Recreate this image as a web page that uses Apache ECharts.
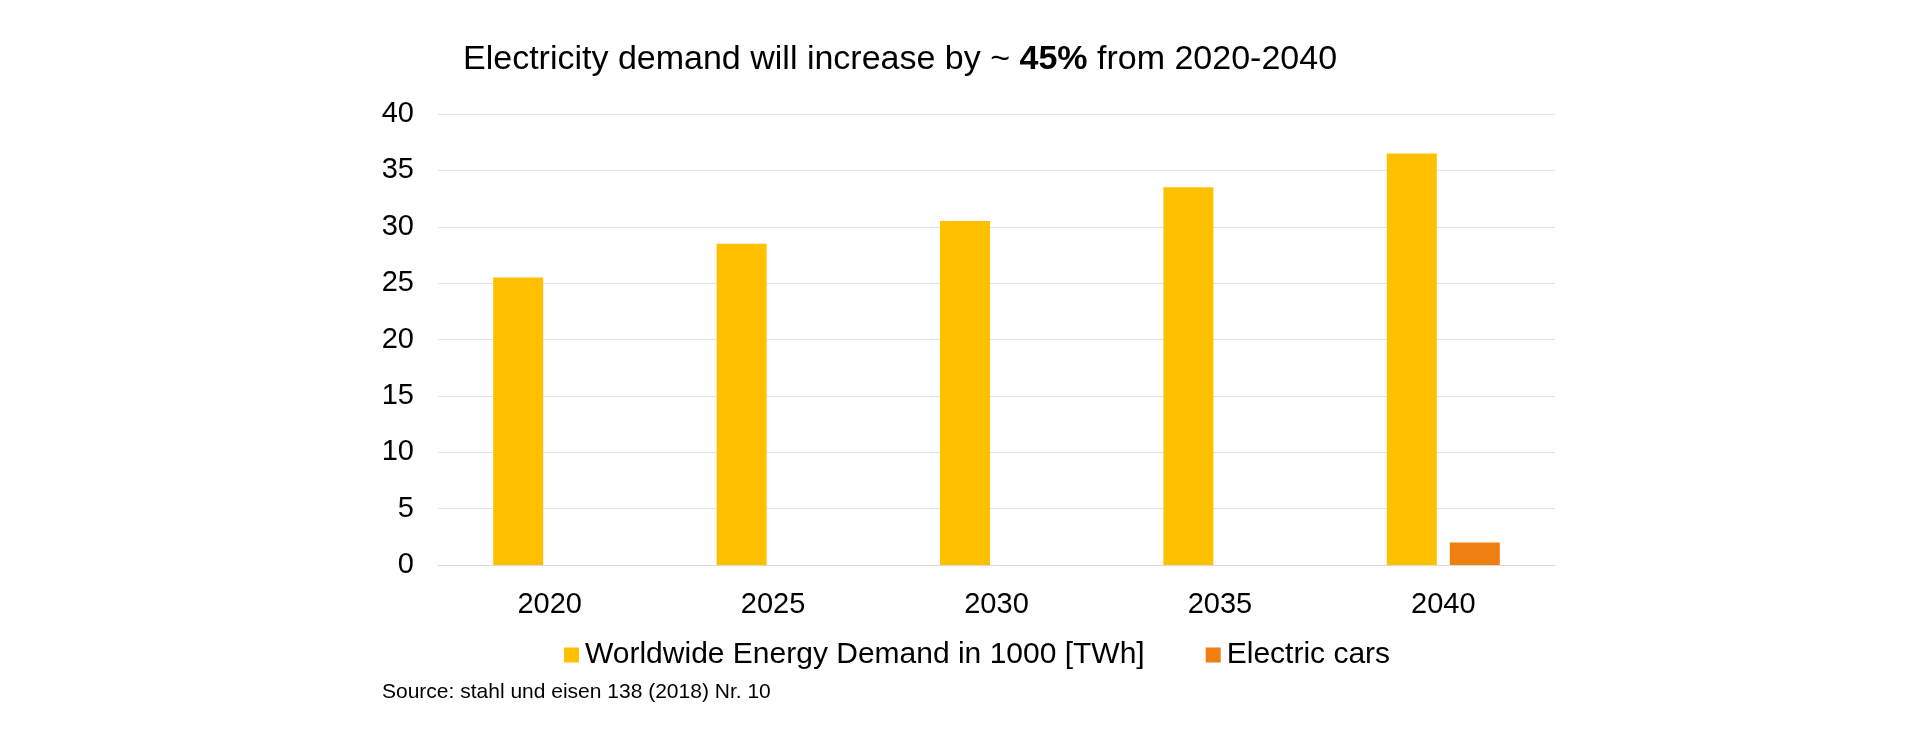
<!DOCTYPE html>
<html>
<head>
<meta charset="utf-8">
<script src="https://cdn.jsdelivr.net/npm/echarts@6/dist/echarts.min.js"></script>
<style>html,body{margin:0;padding:0;background:#fff}#c{width:1920px;height:750px}</style>
</head>
<body>
<div id="c"></div>
<script>
const categories = ['2020', '2025', '2030', '2035', '2040'];
const demandValues = [25.5, 28.5, 30.5, 33.5, 36.5];
const carValues = [0, 0, 0, 0, 2];
const seriesNames = ['Worldwide Energy Demand in 1000 [TWh]', 'Electric cars'];
const yTicks = {min: 0, max: 40, interval: 5};

const FONT = '"Liberation Sans", Arial, sans-serif';
const chart = echarts.init(document.getElementById('c'));
chart.setOption({
  backgroundColor: '#ffffff',
  animation: false,
  title: {
    text: 'Electricity demand will increase by ~ {b|45%} from 2020-2040',
    left: 463, top: 43, padding: 0,
    textStyle: {
      fontFamily: FONT, fontSize: 34, fontWeight: 'normal', color: '#000',
      lineHeight: 34,
      rich: { b: { fontFamily: FONT, fontSize: 34, fontWeight: 'bold', color: '#000', lineHeight: 34 } }
    }
  },
  legend: {
    data: seriesNames,
    left: 564, top: 640, padding: 0,
    icon: 'rect', itemWidth: 15, itemHeight: 15, itemGap: 61,
    textStyle: { fontFamily: FONT, fontSize: 30, color: '#000', padding: [0, 0, 0, 1] }
  },
  grid: { left: 438, right: 365, top: 114, bottom: 185, containLabel: false },
  xAxis: {
    type: 'category', data: categories,
    axisLine: { lineStyle: { color: '#D9D9D9', width: 1 } },
    axisTick: { show: false },
    axisLabel: { fontFamily: FONT, fontSize: 29, color: '#000', margin: 25 }
  },
  yAxis: {
    type: 'value', min: yTicks.min, max: yTicks.max, interval: yTicks.interval,
    axisLine: { show: false }, axisTick: { show: false },
    axisLabel: { fontFamily: FONT, fontSize: 29, color: '#000', margin: 24 },
    splitLine: { lineStyle: { color: '#E3E3E3', width: 1 } }
  },
  series: [
    { name: seriesNames[0], type: 'bar', data: demandValues, barWidth: 50, barGap: '26%',
      itemStyle: { color: '#FFC000' } },
    { name: seriesNames[1], type: 'bar', data: carValues, barWidth: 50,
      itemStyle: { color: '#EF7F11' } }
  ],
  graphic: [
    { type: 'text', left: 382, top: 682,
      style: { text: 'Source: stahl und eisen 138 (2018) Nr. 10', font: '21px ' + FONT, fill: '#000' } }
  ]
});
</script>
</body>
</html>
